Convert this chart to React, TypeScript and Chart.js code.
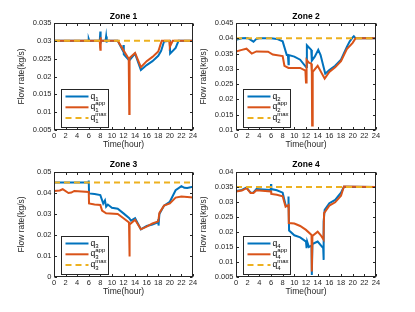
import React, { useEffect, useRef } from "react";
import { Chart, registerables } from "chart.js";

Chart.register(...registerables);

const BLUE = "#0072BD";
const ORANGE = "#D95319";
const YELLOW = "#EDB120";
const AXIS = "#262626";
const FAMILY = "'Liberation Sans', Arial, Helvetica, sans-serif";

// ---------- data ----------
const hourTicks = [0, 2, 4, 6, 8, 10, 12, 14, 16, 18, 20, 22, 24];
const maxTime = [0, 24];
const legendSup = ["", "app", "max"];
const xTitle = "Time(hour)";
const yTitle = "Flow rate(kg/s)";

// Zone 1
const zone1Ticks = [0.005, 0.01, 0.015, 0.02, 0.025, 0.03, 0.035];
const zone1QTime = [0, 5.9, 6, 6.1, 7.9, 8, 8.05, 8.15, 8.9, 9, 9.05, 9.15, 11, 11.9, 12, 12.05, 13, 14, 15, 16, 17, 18, 18.5, 19, 20, 20.05, 21, 21.5, 24];
const zone1Q = [0.03, 0.03, 0.0305, 0.03, 0.03, 0.0326, 0.0295, 0.03, 0.03, 0.0312, 0.0295, 0.03, 0.03, 0.0272, 0.0288, 0.0262, 0.0245, 0.0264, 0.0218, 0.0232, 0.0243, 0.0258, 0.0272, 0.0298, 0.03, 0.0264, 0.028, 0.03, 0.03];
const zone1AppTime = [0, 7.9, 8, 8.02, 8.1, 11, 11.9, 12.9, 13, 13.05, 14, 15, 16, 17, 18, 18.6, 19.9, 20, 20.5, 24];
const zone1App = [0.03, 0.03, 0.0275, 0.031, 0.03, 0.03, 0.0276, 0.025, 0.0095, 0.0252, 0.0266, 0.0226, 0.0243, 0.0255, 0.027, 0.03, 0.03, 0.0283, 0.03, 0.03];
const zone1Max = [0.03, 0.03];

// Zone 2
const zone2Ticks = [0.01, 0.015, 0.02, 0.025, 0.03, 0.035, 0.04, 0.045];
const zone2QTime = [0, 1, 2, 3, 3.5, 4, 6, 7, 8, 8.7, 8.9, 9, 9.05, 10, 11, 12, 12.15, 12.5, 12.9, 13, 13.5, 14.1, 14.5, 15.3, 16, 17, 18, 19, 19.5, 20, 20.2, 20.5, 24];
const zone2Q = [0.0395, 0.04, 0.0401, 0.0389, 0.0398, 0.04, 0.04, 0.0398, 0.039, 0.0345, 0.0345, 0.0315, 0.0345, 0.034, 0.033, 0.0306, 0.0377, 0.037, 0.0362, 0.0327, 0.034, 0.0362, 0.0345, 0.0284, 0.0296, 0.031, 0.033, 0.0372, 0.039, 0.0403, 0.0407, 0.04, 0.04];
const zone2AppTime = [0, 1, 1.8, 2.7, 3.5, 5.5, 6.3, 8, 8.3, 9, 11, 11.9, 12, 12.1, 12.5, 12.9, 13, 13.05, 13.15, 14, 15.2, 16, 17, 18, 19, 20, 20.5, 24];
const zone2App = [0.0357, 0.0362, 0.0366, 0.035, 0.0357, 0.0356, 0.0347, 0.0342, 0.031, 0.0303, 0.0303, 0.0294, 0.0255, 0.0329, 0.032, 0.0317, 0.029, 0.0115, 0.029, 0.031, 0.0268, 0.029, 0.0305, 0.0325, 0.0365, 0.0385, 0.04, 0.04];
const zone2Max = [0.04, 0.04];

// Zone 3
const zone3Ticks = [0, 0.01, 0.02, 0.03, 0.04, 0.05];
const zone3QTime = [0, 5.95, 6, 6.05, 7, 8, 8.5, 8.8, 9, 9.3, 10, 11, 12, 13, 13.3, 14, 15, 16, 17, 17.95, 18, 18.05, 18.2, 19, 20, 21, 22, 22.5, 23, 24];
const zone3Q = [0.045, 0.045, 0.046, 0.0398, 0.0395, 0.039, 0.035, 0.0365, 0.0335, 0.0345, 0.033, 0.0325, 0.0303, 0.028, 0.0268, 0.028, 0.0227, 0.0243, 0.025, 0.026, 0.0275, 0.0245, 0.03, 0.034, 0.0358, 0.0413, 0.0433, 0.0425, 0.0424, 0.043];
const zone3AppTime = [0, 1, 1.5, 2.5, 3, 3.5, 6, 6.05, 7, 8, 8.3, 9, 11, 12, 12.95, 13, 13.1, 14, 15, 16, 17, 18, 18.2, 19, 20, 21, 22, 24];
const zone3App = [0.041, 0.0412, 0.0418, 0.04, 0.0402, 0.041, 0.0405, 0.035, 0.0345, 0.0343, 0.0316, 0.0303, 0.03, 0.028, 0.026, 0.0098, 0.025, 0.0273, 0.0227, 0.024, 0.0255, 0.0265, 0.0305, 0.034, 0.035, 0.0378, 0.0383, 0.0378];
const zone3Max = [0.045, 0.045];

// Zone 4
const zone4Ticks = [0.005, 0.01, 0.015, 0.02, 0.025, 0.03, 0.035, 0.04];
const zone4QTime = [0, 1, 1.8, 2.5, 3, 3.5, 5.95, 6, 6.05, 7, 8, 8.5, 8.95, 9, 9.1, 10, 11, 12, 12.1, 12.2, 12.5, 12.95, 13, 13.1, 14, 14.95, 15, 15.05, 15.2, 16, 17, 18, 18.5, 24];
const zone4Q = [0.0337, 0.034, 0.0348, 0.0331, 0.0332, 0.0343, 0.034, 0.036, 0.0343, 0.0339, 0.0331, 0.029, 0.0284, 0.0318, 0.0205, 0.0189, 0.0182, 0.0168, 0.0146, 0.0168, 0.015, 0.0155, 0.0057, 0.016, 0.0168, 0.0146, 0.0107, 0.0235, 0.0274, 0.0296, 0.0307, 0.0331, 0.0351, 0.035];
const zone4AppTime = [0, 1, 1.8, 2.5, 3, 3.5, 6, 6.05, 7, 8, 8.5, 9, 9.05, 10, 11, 12, 12.95, 13, 13.1, 14, 14.5, 15, 15.1, 16, 17, 18, 18.5, 24];
const zone4App = [0.0335, 0.0338, 0.0346, 0.033, 0.033, 0.0339, 0.0335, 0.0327, 0.0324, 0.0319, 0.0284, 0.029, 0.023, 0.0228, 0.022, 0.0207, 0.019, 0.0068, 0.0187, 0.0201, 0.019, 0.0175, 0.0263, 0.0288, 0.0299, 0.0321, 0.0352, 0.035];
const zone4Max = [0.035, 0.035];

// ---------- layout ----------
type Layout = {
  left: number; top: number; width: number; height: number;
  yAxisW: number; padRight: number; titleTop: number; titleBottom: number;
  xAxisH: number; xTitleBottom: number; yTitleTop: number;
};

const leftCol = { left: 0, width: 200, yAxisW: 54, padRight: 7, yTitleTop: 21.3 };
const rightCol = { left: 200, width: 215, yAxisW: 36, padRight: 39, yTitleTop: 3.6 };
const topRow = { top: 0, height: 156, titleTop: 11.8, titleBottom: 1.0, xAxisH: 26, xTitleBottom: 6.6 };
const botRow = { top: 156, height: 156, titleTop: 4.0, titleBottom: 1.8, xAxisH: 35, xTitleBottom: 14.9 };

type Zone = {
  title: string; sub: string; yTicks: number[];
  qT: number[]; q: number[]; aT: number[]; a: number[]; m: number[];
  layout: Layout;
};

const zones: Zone[] = [
  { title: "Zone 1", sub: "1", yTicks: zone1Ticks, qT: zone1QTime, q: zone1Q, aT: zone1AppTime, a: zone1App, m: zone1Max, layout: { ...leftCol, ...topRow } },
  { title: "Zone 2", sub: "2", yTicks: zone2Ticks, qT: zone2QTime, q: zone2Q, aT: zone2AppTime, a: zone2App, m: zone2Max, layout: { ...rightCol, ...topRow } },
  { title: "Zone 3", sub: "3", yTicks: zone3Ticks, qT: zone3QTime, q: zone3Q, aT: zone3AppTime, a: zone3App, m: zone3Max, layout: { ...leftCol, ...botRow } },
  { title: "Zone 4", sub: "4", yTicks: zone4Ticks, qT: zone4QTime, q: zone4Q, aT: zone4AppTime, a: zone4App, m: zone4Max, layout: { ...rightCol, ...botRow } },
];

const framePlugin = {
  id: "frame",
  afterDatasetsDraw(chart: any) {
    const { ctx, chartArea, scales } = chart;
    const L = Math.round(chartArea.left) + 0.5;
    const R = Math.round(chartArea.right) - 0.5;
    const T = Math.round(chartArea.top) + 0.5;
    const B = Math.round(chartArea.bottom) - 0.5;
    ctx.save();
    ctx.strokeStyle = AXIS;
    ctx.lineWidth = 1;
    ctx.setLineDash([]);
    ctx.strokeRect(L, T, R - L, B - T);
    ctx.beginPath();
    const tl = 2.5;
    for (const t of scales.x.ticks) {
      const px = Math.round(scales.x.getPixelForValue(t.value)) + 0.5;
      ctx.moveTo(px, B); ctx.lineTo(px, B - tl);
      ctx.moveTo(px, T); ctx.lineTo(px, T + tl);
    }
    for (const t of scales.y.ticks) {
      const py = Math.round(scales.y.getPixelForValue(t.value)) + 0.5;
      ctx.moveTo(L, py); ctx.lineTo(L + tl, py);
      ctx.moveTo(R, py); ctx.lineTo(R - tl, py);
    }
    ctx.stroke();
    ctx.restore();
  },
};

function makeLegend(sub: string) {
  return {
    id: "zoneLegend",
    afterDraw(chart: any) {
      const { ctx, chartArea } = chart;
      const bx = Math.round(chartArea.left) + 7.5;
      const by = Math.round(chartArea.bottom) - 40.5;
      const bw = 47;
      const bh = 38;
      ctx.save();
      ctx.fillStyle = "#ffffff";
      ctx.fillRect(bx, by, bw, bh);
      ctx.strokeStyle = AXIS;
      ctx.lineWidth = 1;
      ctx.strokeRect(bx, by, bw, bh);
      const colors = [BLUE, ORANGE, YELLOW];
      const dashes = [[], [], [6, 4]];
      legendSup.forEach((sup, i) => {
        const cy = by + 7 + i * 10.8;
        ctx.setLineDash(dashes[i]);
        ctx.strokeStyle = colors[i];
        ctx.lineWidth = 2;
        ctx.beginPath();
        ctx.moveTo(bx + 4, cy);
        ctx.lineTo(bx + 27, cy);
        ctx.stroke();
        ctx.setLineDash([]);
        ctx.fillStyle = "#000000";
        ctx.textAlign = "left";
        ctx.textBaseline = "alphabetic";
        ctx.font = `8.5px ${FAMILY}`;
        const qx = bx + 29;
        ctx.fillText("q", qx, cy + 2);
        const w = ctx.measureText("q").width;
        ctx.font = `6px ${FAMILY}`;
        ctx.fillText(sub, qx + w, cy + 4.5);
        if (sup) ctx.fillText(sup, qx + w, cy - 2.5);
      });
      ctx.restore();
    },
  };
}

function ZoneChart({ zone }: { zone: Zone }) {
  const ref = useRef<HTMLCanvasElement | null>(null);
  const lay = zone.layout;
  useEffect(() => {
    if (!ref.current) return;
    const pts = (ts: number[], vs: number[]) => ts.map((t, i) => ({ x: t, y: vs[i] }));
    const tickFont = { family: FAMILY, size: 7.5 };
    const titleFont = { family: FAMILY, size: 8.5 };
    const chart = new Chart(ref.current, {
      type: "line",
      data: {
        datasets: [
          { data: pts(zone.qT, zone.q), borderColor: BLUE, borderWidth: 2, pointRadius: 0, tension: 0, fill: false, order: 2 },
          { data: pts(zone.aT, zone.a), borderColor: ORANGE, borderWidth: 2, pointRadius: 0, tension: 0, fill: false, order: 1 },
          { data: pts(maxTime, zone.m), borderColor: YELLOW, borderWidth: 2, borderDash: [6, 4], pointRadius: 0, tension: 0, fill: false, order: 0 },
        ],
      } as any,
      options: {
        animation: false,
        responsive: false,
        devicePixelRatio: 1,
        events: [],
        layout: { padding: { left: 0, right: lay.padRight, top: 0, bottom: 0 } },
        plugins: {
          legend: { display: false },
          tooltip: { enabled: false },
          title: {
            display: true,
            fullSize: false,
            text: zone.title,
            color: "#000000",
            font: { family: FAMILY, size: 8.5, weight: "bold" },
            padding: { top: lay.titleTop, bottom: lay.titleBottom },
          },
        },
        scales: {
          x: {
            type: "linear",
            min: 0,
            max: 24,
            afterBuildTicks: (s: any) => { s.ticks = hourTicks.map((v) => ({ value: v })); },
            afterFit: (s: any) => { s.height = lay.xAxisH; },
            grid: { display: false, drawTicks: false },
            border: { display: false },
            ticks: { font: tickFont, color: AXIS, padding: 1, maxRotation: 0, autoSkip: false, callback: (v: any) => String(v) },
            title: { display: true, text: xTitle, color: AXIS, font: titleFont, padding: { top: 0, bottom: lay.xTitleBottom } },
          },
          y: {
            type: "linear",
            min: zone.yTicks[0],
            max: zone.yTicks[zone.yTicks.length - 1],
            afterBuildTicks: (s: any) => { s.ticks = zone.yTicks.map((v) => ({ value: v })); },
            afterFit: (s: any) => { s.width = lay.yAxisW; },
            grid: { display: false, drawTicks: false },
            border: { display: false },
            ticks: { font: tickFont, color: AXIS, padding: 2.5, autoSkip: false, callback: (v: any) => String(v) },
            title: { display: true, text: yTitle, color: AXIS, font: titleFont, padding: { top: lay.yTitleTop - 5.1, bottom: 0 } },
          },
        },
      } as any,
      plugins: [framePlugin, makeLegend(zone.sub)],
    });
    return () => chart.destroy();
  }, [zone]);
  return (
    <canvas
      ref={ref}
      width={lay.width}
      height={lay.height}
      style={{ position: "absolute", left: lay.left, top: lay.top, width: lay.width, height: lay.height }}
    />
  );
}

export default function App() {
  return (
    <div style={{ position: "fixed", left: 0, top: 0, width: 415, height: 312, background: "#ffffff", overflow: "hidden" }}>
      {zones.map((z) => (
        <ZoneChart key={z.title} zone={z} />
      ))}
    </div>
  );
}
